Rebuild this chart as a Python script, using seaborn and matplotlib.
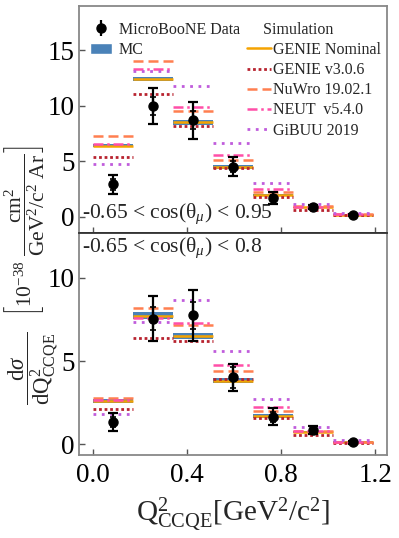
import numpy as np
import seaborn as sns
import matplotlib.pyplot as plt
from matplotlib.patches import Patch
from matplotlib.lines import Line2D

# bin edges in Q2_CCQE [GeV^2/c^2]
edges = [0.0, 0.17, 0.34, 0.51, 0.68, 0.85, 1.02, 1.19]

# upper panel: -0.65 < cos(theta_mu) < 0.95
data_top = [2.95, 10.0, 8.7, 4.5, 1.7, 0.9, 0.2]
tot_err_top = [0.85, 1.65, 1.65, 0.85, 0.5, 0.15, 0.08]
stat_err_top = [0.5, 0.8, 0.8, 0.5, 0.3, 0.1, 0.05]
genie_nom_top = [6.4, 12.4, 8.5, 4.5, 1.98, 0.87, 0.2]
mc_err_top = [0.15, 0.2, 0.2, 0.15, 0.1, 0.06, 0.05]
genie_v3_top = [5.43, 11.05, 8.15, 4.38, 1.83, 0.65, 0.15]
nuwro_top = [7.3, 14.0, 9.5, 5.14, 2.2, 0.95, 0.22]
neut_top = [6.55, 13.3, 9.88, 5.6, 2.5, 0.9, 0.22]
gibuu_top = [4.8, 13.1, 11.8, 6.64, 3.03, 1.14, 0.33]

# lower panel: -0.65 < cos(theta_mu) < 0.8
data_bot = [1.35, 7.55, 7.75, 4.02, 1.65, 0.85, 0.12]
tot_err_bot = [0.55, 1.35, 1.55, 0.83, 0.52, 0.25, 0.08]
stat_err_bot = [0.3, 0.7, 0.82, 0.65, 0.3, 0.15, 0.05]
genie_nom_bot = [2.6, 7.72, 6.5, 3.8, 1.7, 0.75, 0.14]
mc_err_bot = [0.12, 0.2, 0.2, 0.15, 0.1, 0.06, 0.04]
genie_v3_bot = [2.1, 6.4, 6.2, 3.9, 1.58, 0.55, 0.1]
nuwro_bot = [2.8, 8.17, 7.17, 4.4, 2.0, 0.78, 0.16]
neut_bot = [2.63, 7.6, 7.27, 4.76, 2.25, 0.8, 0.16]
gibuu_bot = [1.82, 7.37, 8.66, 5.6, 2.71, 1.04, 0.28]

sns.set_theme(style="ticks")
plt.rcParams['font.family'] = ['Liberation Serif', 'DejaVu Serif']
plt.rcParams['mathtext.fontset'] = 'custom'
plt.rcParams['mathtext.rm'] = 'Liberation Serif'
plt.rcParams['mathtext.it'] = 'Liberation Serif:italic'
plt.rcParams['mathtext.bf'] = 'Liberation Serif:bold'

c_mc = '#4a82b8'
styles = {
    'GENIE Nominal': dict(color='#f5a300', ls='-', lw=1.8),
    'GENIE v3.0.6': dict(color='#b8232f', ls=(0, (1, 1)), lw=2.0),
    'NuWro 19.02.1': dict(color='#ff7f50', ls=(0, (4, 2)), lw=1.8),
    'NEUT  v5.4.0': dict(color='#ff4fa8', ls=(0, (4, 1.5, 1, 1.5)), lw=1.8),
    'GiBUU 2019': dict(color='#c05cdc', ls=(0, (1, 2)), lw=2.0),
}

lo = np.array(edges[:-1])
hi = np.array(edges[1:])
centers = (lo + hi) / 2
widths = hi - lo

fig = plt.figure(figsize=(3.99, 5.38), dpi=100)
ax_top = fig.add_axes([0.198, 0.567, 0.772, 0.422])
ax_bot = fig.add_axes([0.198, 0.154, 0.772, 0.413])


def draw_panel(ax, data, tot_err, stat_err, nom, mc_err, v3, nuwro, neut, gibuu):
    nom = np.array(nom)
    mc_err = np.array(mc_err)
    ax.bar(centers, 2 * mc_err, bottom=nom - mc_err, width=widths,
           color=c_mc, linewidth=0, zorder=1)
    series = [('GENIE Nominal', nom), ('GENIE v3.0.6', v3), ('NuWro 19.02.1', nuwro),
              ('NEUT  v5.4.0', neut), ('GiBUU 2019', gibuu)]
    for name, vals in series:
        st = styles[name]
        ax.hlines(vals, lo, hi, colors=st['color'], linestyles=[st['ls']],
                  linewidth=st['lw'], zorder=2)
    ax.errorbar(centers, data, yerr=tot_err, fmt='o', color='black', ms=6.5,
                elinewidth=1.6, capsize=3.5, capthick=1.6, zorder=4)
    ax.errorbar(centers, data, yerr=stat_err, fmt='none', color='black',
                elinewidth=1.6, capsize=2.5, capthick=1.2, zorder=4)
    ax.set_xlim(-0.06, 1.25)
    ax.set_xticks([0.0, 0.4, 0.8, 1.2])
    ax.tick_params(direction='in', length=4, width=1, color='#555555',
                   labelsize=19.5, pad=3, top=False, right=False, labelcolor='black')
    for sp in ax.spines.values():
        sp.set_color('#888888')
        sp.set_linewidth(1.3)


draw_panel(ax_top, data_top, tot_err_top, stat_err_top, genie_nom_top, mc_err_top,
           genie_v3_top, nuwro_top, neut_top, gibuu_top)
draw_panel(ax_bot, data_bot, tot_err_bot, stat_err_bot, genie_nom_bot, mc_err_bot,
           genie_v3_bot, nuwro_bot, neut_bot, gibuu_bot)

ax_top.set_ylim(-1.45, 19.0)
ax_top.set_yticks([0, 5, 10, 15])
ax_top.tick_params(labelbottom=False)
ax_top.spines['bottom'].set_color('#333333')
ax_bot.set_ylim(-0.66, 12.7)
ax_bot.set_yticks([0, 5, 10])
ax_bot.spines['top'].set_color('#333333')
ax_bot.tick_params(axis='x', pad=6)

ax_top.text(0.01, 0.085, r'-0.65 < cos(θ$_{\mu}$) < 0.95', transform=ax_top.transAxes,
            fontsize=15.5, va='center', ha='left')
ax_bot.text(0.01, 0.935, r'-0.65 < cos(θ$_{\mu}$) < 0.8', transform=ax_bot.transAxes,
            fontsize=15.5, va='center', ha='left')

ax_bot.set_xlabel(r'$\mathrm{Q^2_{CCQE} [GeV^2/c^2]}$', fontsize=21, labelpad=5)

# y label in two pieces: the unit bracket sits higher, the derivative below it
fig.text(0.062, 0.57,
         r'$\left[10^{-38}\ \dfrac{\mathrm{cm^2}}{\mathrm{GeV^2/c^2\ Ar}}\right]$',
         rotation=90, ha='center', va='center', fontsize=15.5)
fig.text(0.083, 0.316, r'$\dfrac{\mathrm{d}\sigma}{\mathrm{dQ^2_{CCQE}}}$',
         rotation=90, ha='center', va='center', fontsize=16.5)

# legends
data_handle = ax_top.errorbar([], [], yerr=[], fmt='o', color='black', ms=6.5,
                              elinewidth=1.6, capsize=3.5, capthick=1.6)
leg1 = ax_top.legend([data_handle, Patch(facecolor=c_mc)], ['MicroBooNE Data', 'MC'],
                     loc='upper left', bbox_to_anchor=(0.035, 0.93), frameon=False,
                     fontsize=11.5, borderpad=0, borderaxespad=0, handlelength=1.4,
                     handletextpad=0.4, labelspacing=0.26)
ax_top.add_artist(leg1)
sim_handles = [Line2D([], [], color=s['color'], ls=s['ls'], lw=s['lw']) for s in styles.values()]
leg2 = ax_top.legend(sim_handles, list(styles.keys()), title='    Simulation',
                     loc='upper left', bbox_to_anchor=(0.545, 0.93), frameon=False,
                     fontsize=11.5, title_fontsize=11.5, alignment='left', borderpad=0,
                     borderaxespad=0, handlelength=1.5, handletextpad=0.15,
                     labelspacing=0.26)

fig.savefig('out.png', dpi=100)
